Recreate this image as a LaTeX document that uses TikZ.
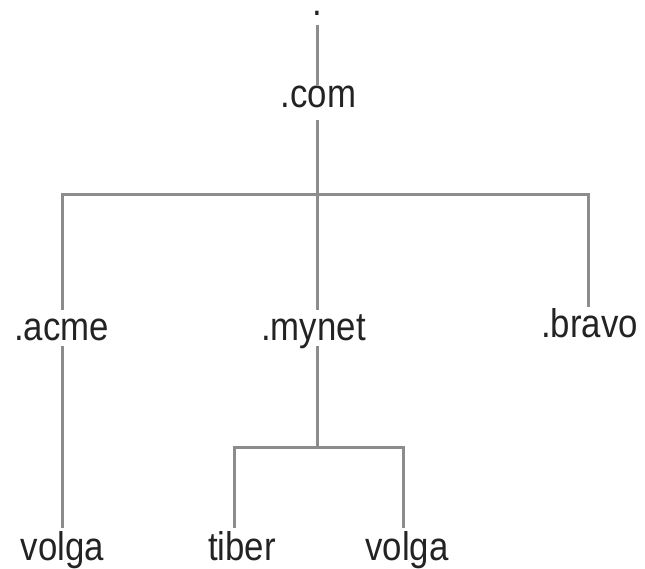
\documentclass[tikz,border=0pt]{standalone}
\usepackage{fontspec}
\setmainfont[FakeStretch=0.87]{Liberation Sans}
\definecolor{linegray}{RGB}{140,140,140}
\definecolor{txt}{RGB}{35,35,35}
\begin{document}
\begin{tikzpicture}[x=1pt,y=-1pt,
  lbl/.style={anchor=base,inner sep=0pt,text=txt,font=\fontsize{40}{44}\selectfont},
  mid/.style={lbl,text height=30pt,text depth=6pt},
  low/.style={lbl,text height=32pt,text depth=8pt},
  conn/.style={draw=linegray,line width=3pt}]
\useasboundingbox (0,0) rectangle (645,569);
\node[lbl,text height=4pt,text depth=9pt] (dot) at (317,16) {.};
\node[lbl,text height=23pt,text depth=12pt] (com) at (318.5,108) {.com};
\node[mid] (acme) at (61.5,340) {.acme};
\node[mid] (mynet) at (313.5,340) {.mynet};
\node[mid] (bravo) at (589.5,337) {.bravo};
\node[low] (volgaA) at (62.5,560) {volga};
\node[low] (tiber) at (242,560) {tiber};
\node[low] (volgaB) at (407,560) {volga};
\coordinate (j1) at (317,195);
\coordinate (j2) at (317,447);
\draw[conn] (dot.south -| j1) -- (com.north -| j1);
\draw[conn] (com.south -| j1) -- (j1);
\draw[conn] ([xshift=0.5pt]acme.north) |- (j1) -| ([xshift=-1.5pt]bravo.north);
\draw[conn] (j1) -- (j1 |- mynet.north);
\draw[conn] (j1 |- mynet.south) -- (j2);
\draw[conn] ([xshift=-8pt]tiber.north) |- (j2) -| ([xshift=-4pt]volgaB.north);
\draw[conn] ([xshift=0.5pt]acme.south) -- ([xshift=-0.5pt]volgaA.north);
\end{tikzpicture}
\end{document}
